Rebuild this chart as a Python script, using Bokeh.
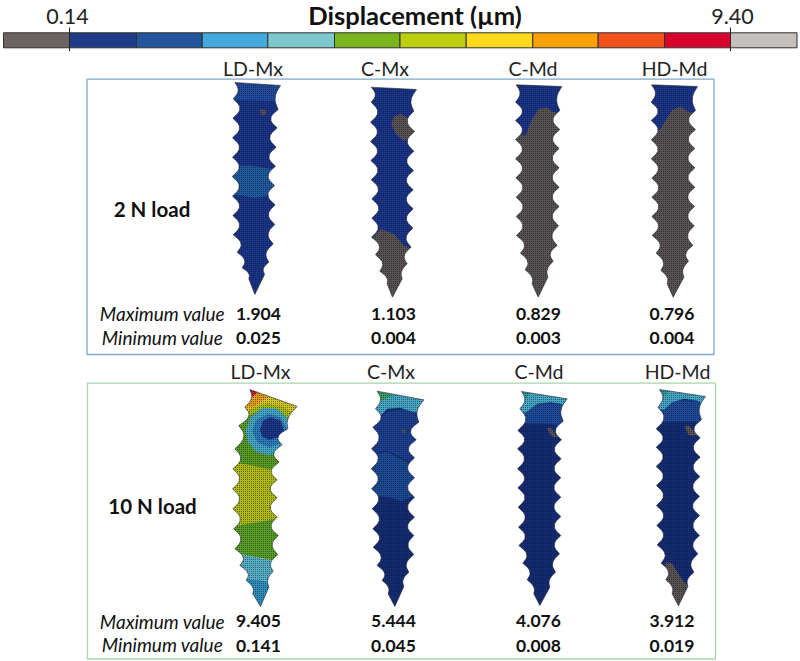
from bokeh.plotting import figure
from bokeh.models import Range1d
from bokeh.embed import file_html
from bokeh.resources import INLINE
from bokeh.core.properties import value

# ---------- colour scale ----------
SCALE_EDGES = [3, 69, 136, 201.7, 267.3, 334, 399.5, 465.7, 532.3, 597.7, 664, 730, 796.5]
SCALE_COLORS = ["#6b6361", "#1f3c88", "#23559c", "#44a9dc", "#7cc8cc", "#7ab51d", "#bccf0d",
                "#ffd91c", "#fda202", "#f0521b", "#d8002c", "#c6c0bc"]
COLUMNS = ["LD-Mx", "C-Mx", "C-Md", "HD-Md"]
MAX_2N = ["1.904", "1.103", "0.829", "0.796"]
MIN_2N = ["0.025", "0.004", "0.003", "0.004"]
MAX_10N = ["9.405", "5.444", "4.076", "3.912"]
MIN_10N = ["0.141", "0.045", "0.008", "0.019"]

BLUE = "#1a3488"; NAVY = "#142c74"; MID = "#1f5a9e"; GREY = "#5a5351"; TEAL = "#45a8c4"

# ---------- screw outlines: (x, y) in crop pixels (crop scale 3) ----------
ORIGIN_A = (200, 70); ORIGIN_B = (480, 70); ORIGIN_C = (200, 380); ORIGIN_D = (480, 380)

S1_L = [(103,36),(98,85),(97,143),(96,202),(96,260),(95,318),(96,377),(97,435),(98,493),(110,545),(125,592),(145,625)]
S1_R = [(240,45),(233,117),(230,172),(227,230),(225,287),(222,345),(224,403),(223,462),(218,520),(205,575),(192,612)]
S1_T = (163,672)
S2_L = [(512,50),(512,95),(510,155),(510,213),(511,270),(512,328),(514,385),(514,443),(513,500),(525,553),(538,602),(560,640)]
S2_R = [(648,57),(640,122),(642,183),(640,242),(639,300),(638,358),(638,415),(637,473),(632,530),(620,580),(605,625)]
S2_T = (576,680)
S3_L = [(107,43),(105,95),(105,150),(105,207),(105,265),(106,322),(107,380),(107,438),(108,495),(120,548),(134,598),(155,640)]
S3_R = [(244,48),(238,120),(238,177),(236,234),(236,292),(236,350),(236,408),(234,466),(230,525),(218,572),(202,620)]
S3_T = (173,680)
S4_L = [(513,43),(512,95),(512,150),(512,208),(512,265),(514,323),(514,380),(514,438),(515,495),(527,548),(541,600),(560,640)]
S4_R = [(651,48),(645,120),(645,177),(643,234),(643,292),(643,350),(642,408),(641,466),(637,525),(624,572),(610,620)]
S4_T = (578,680)
S5_L = [(148,27),(133,80),(115,135),(103,205),(97,265),(96,325),(97,385),(100,445),(103,505),(118,555),(137,600),(157,640)]
S5_R = [(290,78),(262,145),(245,193),(236,245),(230,298),(230,352),(230,410),(233,465),(232,522),(218,572),(205,620)]
S5_T = (180,678)
S6_L = [(530,32),(525,85),(517,140),(513,205),(512,265),(513,325),(515,385),(517,445),(518,500),(530,555),(545,600),(563,640)]
S6_R = [(670,58),(655,125),(647,178),(642,232),(642,292),(642,350),(642,410),(640,465),(640,522),(625,575),(610,618)]
S6_T = (583,678)
S7_L = [(123,33),(118,85),(112,150),(111,205),(111,265),(112,322),(113,380),(114,440),(115,495),(127,548),(140,598),(160,640)]
S7_R = [(260,55),(248,122),(243,178),(242,235),(241,292),(241,350),(241,408),(241,465),(237,520),(225,575),(208,620)]
S7_T = (178,675)
S8_L = [(537,27),(532,80),(527,145),(527,200),(527,258),(528,315),(528,375),(529,435),(530,493),(542,548),(556,598),(575,640)]
S8_R = [(675,48),(663,118),(659,172),(659,230),(658,288),(657,348),(657,405),(657,465),(652,520),(640,575),(622,618)]
S8_T = (594,676)

# ---------- coloured zones: painted in order, then masked by the outline ----------
Z1 = [(BLUE, [(80,20),(260,20),(260,700),(80,700)]),
      ("#214c9c", [(80,20),(260,20),(260,92),(80,88)]),
      (MID, [(80,288),(150,285),(240,300),(240,370),(160,382),(80,370)]),
      (GREY, [(179,118),(187,116),(196,120),(197,130),(188,135),(180,131)])]
Z2 = [(BLUE, [(490,30),(660,30),(660,700),(490,700)]),
      (GREY, [(572,160),(580,138),(600,130),(618,140),(660,183),(610,212),(585,190)]),
      (GREY, [(490,510),(540,476),(580,490),(610,525),(660,540),(630,700),(530,700),(490,600)])]
Z3 = [(GREY, [(90,30),(260,30),(260,700),(90,700)]),
      (BLUE, [(90,30),(260,30),(260,127),(218,125),(200,112),(175,115),(155,145),(135,195),(90,190)])]
Z4 = [(GREY, [(495,30),(665,30),(665,700),(495,700)]),
      (BLUE, [(495,30),(665,30),(665,127),(625,125),(600,108),(575,118),(555,150),(538,178),(495,175)])]
Z5 = [("#5a9e20", [(80,15),(300,15),(300,300),(80,300)]),
      ("#d8c91c", [(120,15),(310,60),(310,150),(250,100),(200,80),(160,90),(135,110),(110,90)]),
      ("#a9ba14", [(112,130),(150,85),(200,68),(250,80),(300,105),(300,160),(200,160)]),
      ("#5a9e20", [(108,160),(140,110),(180,88),(230,86),(280,130),(280,200),(200,240),(120,210)]),
      (TEAL, [(135,150),(150,110),(185,82),(230,84),(262,115),(270,160),(245,205),(205,226),(165,212),(142,185)]),
      ("#2a7cbc", [(155,150),(168,118),(205,100),(240,110),(262,150),(240,190),(205,200),(170,185)]),
      (BLUE, [(178,148),(188,120),(210,110),(240,120),(250,150),(230,172),(205,178),(185,168)]),
      ("#b3bc0c", [(80,246),(140,252),(250,275),(250,412),(170,425),(80,440)]),
      ("#5aa022", [(80,438),(170,425),(250,410),(250,545),(190,535),(80,516)]),
      ("#57b0c4", [(80,516),(190,535),(250,545),(250,610),(190,600),(80,590)]),
      ("#2f90be", [(80,590),(190,600),(250,610),(250,700),(80,700)]),
      ("#e8a012", [(120,15),(220,40),(190,58),(160,78),(120,80)]),
      ("#c8202a", [(130,15),(176,30),(155,50),(130,50)])]
Z6 = [(NAVY, [(495,20),(680,20),(680,700),(495,700)]),
      ("#1c3f90", [(495,135),(560,95),(620,85),(680,120),(680,250),(620,240),(560,210),(495,220)]),
      ("#1b4a94", [(495,224),(560,214),(620,245),(660,290),(660,340),(600,362),(570,350),(495,345)]),
      (TEAL, [(510,20),(690,50),(690,95),(640,95),(600,82),(560,85),(530,118),(505,100)]),
      ("#3d9e66", [(515,22),(585,38),(545,60),(515,62)]),
      (GREY, [(605,146),(614,146),(614,157),(605,157)])]
Z7 = [(NAVY, [(100,20),(270,20),(270,700),(100,700)]),
      ("#1d4a98", [(100,70),(270,70),(270,135),(200,130),(100,130)]),
      (TEAL, [(110,25),(270,50),(270,82),(240,70),(210,65),(170,70),(135,97),(105,90)]),
      ("#2f9a92", [(118,28),(150,34),(135,55),(118,55)]),
      (GREY, [(198,145),(212,142),(232,172),(215,168)])]
Z8 = [(NAVY, [(515,20),(685,20),(685,700),(515,700)]),
      ("#1d4a98", [(515,60),(685,60),(685,125),(600,122),(515,125)]),
      (TEAL, [(525,20),(685,45),(685,75),(650,60),(610,55),(575,65),(550,88),(520,85)]),
      ("#2f9a92", [(532,22),(565,30),(550,48),(532,48)]),
      (GREY, [(612,138),(625,135),(652,165),(625,165)]),
      (GREY, [(555,545),(575,548),(600,590),(625,620),(610,690),(580,690),(570,620),(555,590)])]

SCREWS = [(ORIGIN_A, S1_L, S1_R, S1_T, Z1), (ORIGIN_A, S2_L, S2_R, S2_T, Z2),
          (ORIGIN_B, S3_L, S3_R, S3_T, Z3), (ORIGIN_B, S4_L, S4_R, S4_T, Z4),
          (ORIGIN_C, S5_L, S5_R, S5_T, Z5), (ORIGIN_C, S6_L, S6_R, S6_T, Z6),
          (ORIGIN_D, S7_L, S7_R, S7_T, Z7), (ORIGIN_D, S8_L, S8_R, S8_T, Z8)]

ROOT_DEPTH = [19, 20, 20, 20, 20, 20, 20, 19, 17, 14, 9]   # counted from the top-most full tooth


def chain(tips, sign):
    pts = []
    n = len(tips) - 1
    for i in range(n):
        a, b = tips[i], tips[i + 1]
        d = 12 if i == 0 else ROOT_DEPTH[len(ROOT_DEPTH) - (n - i)]
        pts.append(a)
        for t, k in ((0.25, 0.75), (0.4, 1.0), (0.6, 1.0), (0.75, 0.75)):
            pts.append((a[0] + (b[0] - a[0]) * t + sign * d * k, a[1] + (b[1] - a[1]) * t))
    pts.append(tips[-1])
    return pts


def img(origin, pts):
    return [origin[0] + q[0] / 3 for q in pts], [origin[1] + q[1] / 3 for q in pts]


p = figure(width=800, height=661, x_range=Range1d(0, 800), y_range=Range1d(661, 0),
           x_axis_type=None, y_axis_type=None, toolbar_location=None, output_backend="svg",
           min_border=0, outline_line_color=None, background_fill_color="white",
           border_fill_color="white", margin=(0, 0, 0, 0))
p.grid.visible = False

# colour bar
p.quad(left=SCALE_EDGES[:-1], right=SCALE_EDGES[1:], top=32.3, bottom=47.3, fill_color=SCALE_COLORS,
       line_color="#2f3030", line_width=1)
p.segment(x0=[SCALE_EDGES[1], SCALE_EDGES[11]], x1=[SCALE_EDGES[1], SCALE_EDGES[11]], y0=27, y1=50.7,
          line_color="#222222", line_width=1)

# screws
for origin, left, right, tip, zones in SCREWS:
    outline = [left[0]] + chain(right, -1) + [tip] + chain(left, 1)[::-1]
    ox, oy = img(origin, outline)
    xa, xb, ya, yb = min(ox), max(ox), min(oy), max(oy)
    for color, poly in zones:
        zx, zy = img(origin, poly)
        zx = [min(max(v, xa), xb) for v in zx]
        zy = [min(max(v, ya), yb) for v in zy]
        p.patch(zx, zy, fill_color=color, line_color=None)
    p.patch(ox, oy, fill_alpha=0, line_color=None, hatch_pattern="dot", hatch_color="#0a0f2a",
            hatch_scale=2, hatch_weight=0.8, hatch_alpha=0.7)
    x0, x1, y0, y1 = xa - 3, xb + 3, ya - 3, yb + 3
    p.multi_polygons(xs=[[[[x0, x1, x1, x0], ox]]], ys=[[[[y0, y0, y1, y1], oy]]],
                     fill_color="white", line_color=None)
    p.patch(ox, oy, fill_alpha=0, line_color="#20242c", line_width=0.6)

# panels
p.quad(left=86.5, right=713.5, top=78.7, bottom=354, fill_alpha=0, line_color="#7fa9c9", line_width=1.3)
p.quad(left=87, right=715, top=382.7, bottom=658.5, fill_alpha=0, line_color="#a8d5ac", line_width=1.3)


def label(x, y, text, size, style="normal", color="#111111"):
    p.text(x=x, y=y, text=text, text_font=value("Lato"), text_font_size=size, text_font_style=style,
           text_align="center", text_baseline="middle", text_color=color)


label([67, 732], [16, 16], ["0.14", "9.40"], "21.5px", color="#222222")
label([414.5], [14], ["Displacement (µm)"], "25.6px", "bold")
label([252.5, 384.5, 532.5, 674], [68] * 4, COLUMNS, "19.5px", color="#222222")
label([260, 390.5, 538.5, 677], [371] * 4, COLUMNS, "19.5px", color="#222222")
label([151.5], [208], ["2 N load"], "20.5px", "bold")
label([152], [505], ["10 N load"], "20.5px", "bold")
label([162, 162], [313, 337], ["Maximum value", "Minimum value"], "19px", "italic")
label([162, 162], [620.5, 644], ["Maximum value", "Minimum value"], "19px", "italic")
XV = [258, 393, 538, 671.5]
label(XV, [313] * 4, MAX_2N, "17.5px", "bold")
label(XV, [337] * 4, MIN_2N, "17.5px", "bold")
label(XV, [620.5] * 4, MAX_10N, "17.5px", "bold")
label(XV, [645] * 4, MIN_10N, "17.5px", "bold")

open("out.html", "w").write(file_html(p, INLINE))
